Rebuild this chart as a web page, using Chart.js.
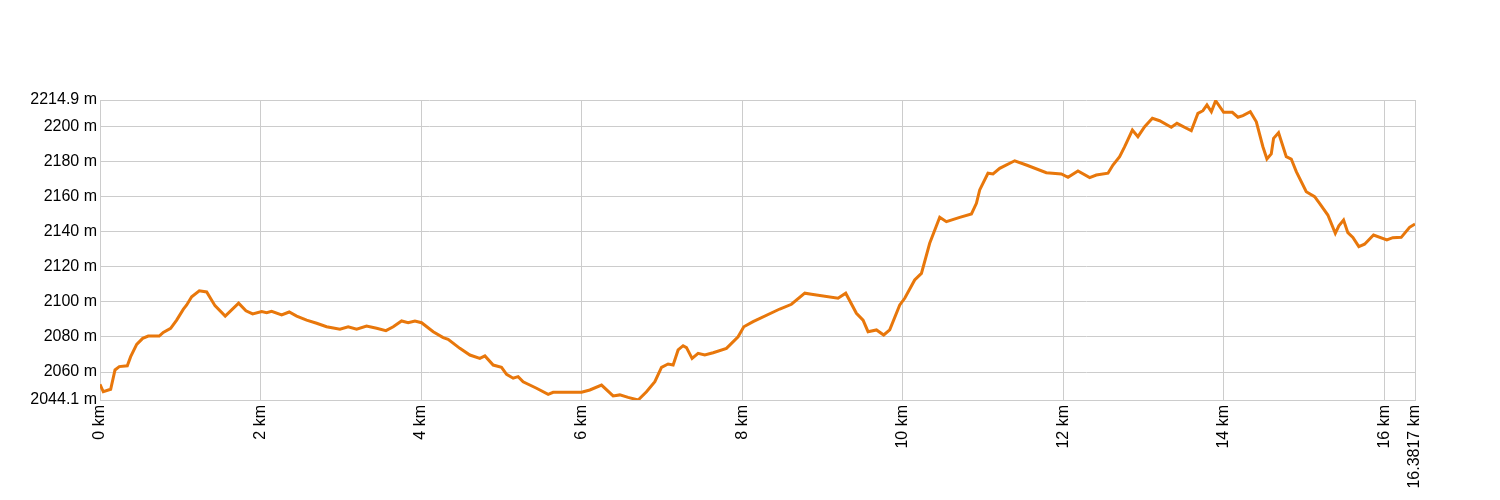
<!DOCTYPE html>
<html>
<head>
<meta charset="utf-8">
<script src="https://cdn.jsdelivr.net/npm/chart.js@4.4.1/dist/chart.umd.min.js"></script>
<style>
html,body{margin:0;padding:0;background:#fff;}
#wrap{width:1500px;height:500px;}
</style>
</head>
<body>
<div id="wrap"><canvas id="c" width="1500" height="500"></canvas></div>
<script>
const distanceKm = [0,0.041,0.133,0.187,0.240,0.340,0.382,0.457,0.532,0.601,0.738,0.788,0.880,0.955,1.037,1.080,1.142,1.237,1.329,1.432,1.560,1.727,1.818,1.902,2.014,2.076,2.138,2.263,2.357,2.450,2.574,2.699,2.823,2.989,3.092,3.197,3.321,3.446,3.562,3.653,3.757,3.839,3.923,4.006,4.151,4.275,4.337,4.483,4.608,4.732,4.795,4.898,5.002,5.065,5.147,5.209,5.271,5.438,5.583,5.645,5.999,6.102,6.248,6.392,6.476,6.579,6.704,6.808,6.912,6.995,7.077,7.140,7.202,7.264,7.306,7.376,7.451,7.534,7.638,7.804,7.949,8.020,8.136,8.468,8.614,8.780,8.863,9.194,9.290,9.423,9.506,9.568,9.673,9.763,9.838,9.963,10.025,10.149,10.233,10.336,10.461,10.544,10.710,10.856,10.918,10.959,11.062,11.125,11.208,11.395,11.540,11.789,11.976,12.059,12.183,12.329,12.412,12.557,12.619,12.702,12.765,12.861,12.930,13.014,13.110,13.200,13.346,13.416,13.595,13.677,13.740,13.790,13.845,13.898,13.998,14.106,14.176,14.238,14.330,14.405,14.487,14.537,14.591,14.620,14.682,14.778,14.840,14.903,15.027,15.131,15.193,15.296,15.389,15.433,15.492,15.545,15.608,15.682,15.753,15.865,16.031,16.105,16.210,16.314,16.3817];
const elevationM = [2053.0,2048.8,2050.2,2061.2,2063.1,2063.6,2068.8,2075.8,2079.2,2080.5,2080.5,2082.6,2084.9,2089.6,2095.7,2098.2,2102.9,2106.3,2105.6,2097.8,2091.9,2099.2,2094.9,2093.1,2094.4,2093.8,2094.6,2092.5,2094.2,2091.9,2089.6,2087.8,2085.8,2084.4,2085.8,2084.4,2086.2,2084.9,2083.6,2085.8,2089.1,2088.1,2089.1,2088.1,2083.0,2079.6,2078.7,2073.5,2069.7,2067.8,2069.2,2064.0,2062.7,2058.7,2056.5,2057.4,2054.5,2050.8,2047.3,2048.5,2048.5,2049.8,2052.6,2046.4,2047.0,2045.6,2044.1,2048.8,2054.5,2062.7,2064.6,2064.0,2072.6,2075.0,2073.9,2067.8,2070.7,2069.7,2071.0,2073.5,2080.1,2085.8,2088.7,2095.9,2098.6,2104.9,2104.3,2102.0,2104.9,2093.5,2089.6,2083.0,2084.0,2081.1,2084.0,2098.2,2102.0,2112.4,2116.2,2133.3,2148.1,2145.6,2148.1,2150.0,2156.1,2163.7,2173.2,2172.8,2176.0,2180.3,2177.9,2173.5,2172.8,2170.9,2174.5,2170.7,2172.2,2173.2,2177.9,2182.6,2188.3,2197.8,2194.0,2199.7,2204.5,2203.1,2199.4,2201.6,2197.4,2207.3,2208.8,2212.1,2208.2,2214.5,2207.9,2207.9,2205.1,2206.0,2208.2,2202.5,2188.3,2181.3,2184.2,2193.1,2196.3,2182.6,2181.3,2174.1,2162.7,2159.9,2156.1,2149.4,2139.0,2143.3,2146.6,2139.4,2136.7,2131.4,2132.8,2138.0,2135.2,2136.5,2136.7,2142.4,2144.3];
const xTicks = [0,2,4,6,8,10,12,14,16,16.3817];
const yTicks = [2044.1,2060,2080,2100,2120,2140,2160,2180,2200,2214.9];
const xMin = 0, xMax = 16.3817, yMin = 2044.1, yMax = 2214.9;

const points = distanceKm.map((d,i)=>({x:d,y:elevationM[i]}));
const FONT = {family:'"Liberation Sans", Arial, sans-serif', size:16};

new Chart(document.getElementById('c'), {
  type:'line',
  data:{datasets:[{data:points,borderColor:'#e8770b',borderWidth:3,pointRadius:0,tension:0,fill:false}]},
  options:{
    responsive:false,animation:false,
    layout:{padding:{top:100,right:85,bottom:0,left:0}},
    plugins:{legend:{display:false},tooltip:{enabled:false}},
    scales:{
      x:{type:'linear',min:xMin,max:xMax,
        afterBuildTicks:s=>{s.ticks=xTicks.map(v=>({value:v}));},
        afterFit:s=>{s.height=100;},
        grid:{color:'#cccccc',lineWidth:1,drawTicks:false},
        border:{color:'#cccccc'},
        ticks:{autoSkip:false,minRotation:90,maxRotation:90,padding:5,color:'#000',font:FONT,
          callback:v=>v+' km'}},
      y:{type:'linear',min:yMin,max:yMax,
        afterBuildTicks:s=>{s.ticks=yTicks.map(v=>({value:v}));},
        afterFit:s=>{s.width=100;},
        grid:{color:'#cccccc',lineWidth:1,drawTicks:false},
        border:{color:'#cccccc'},
        ticks:{autoSkip:false,padding:3,color:'#000',font:FONT,
          callback:v=>v+' m'}}
    }
  }
});
</script>
</body>
</html>
